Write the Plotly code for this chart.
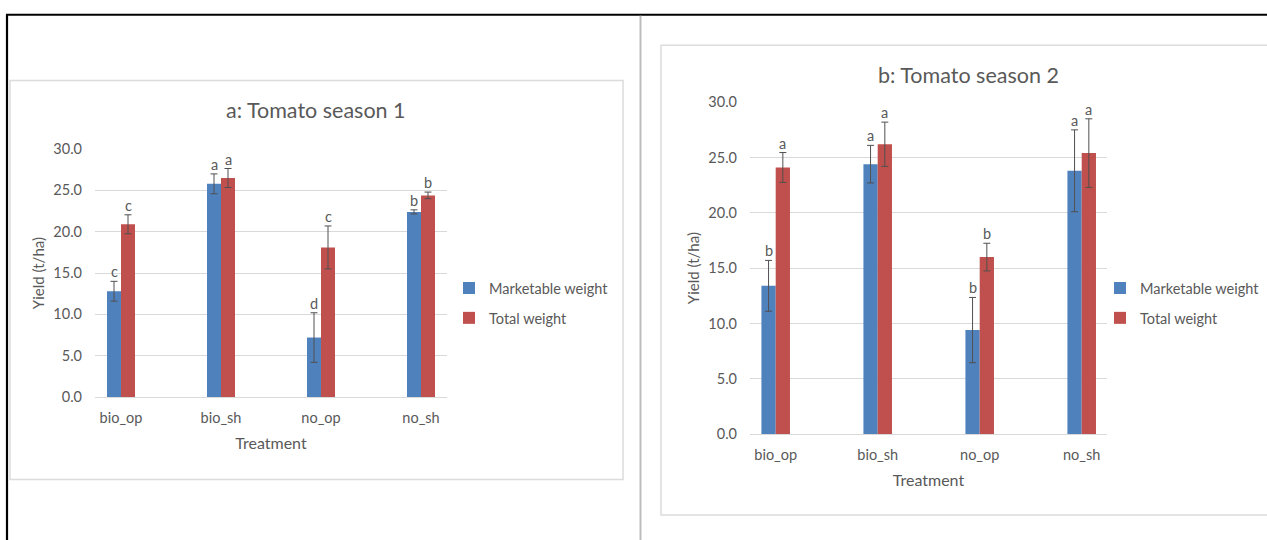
import plotly.graph_objects as go

# ---------------- data ----------------
treatments = ["bio_op", "bio_sh", "no_op", "no_sh"]
series_names = ["Marketable weight", "Total weight"]

s1_marketable = [12.8, 25.8, 7.2, 22.4]
s1_marketable_err = [1.2, 1.2, 3.0, 0.25]
s1_total = [20.9, 26.5, 18.1, 24.4]
s1_total_err = [1.15, 1.15, 2.6, 0.4]
s1_marketable_letters = ["c", "a", "d", "b"]
s1_total_letters = ["c", "a", "c", "b"]

s2_marketable = [13.4, 24.4, 9.4, 23.8]
s2_marketable_err = [2.3, 1.7, 2.95, 3.7]
s2_total = [24.1, 26.2, 16.0, 25.4]
s2_total_err = [1.35, 2.0, 1.25, 3.1]
s2_marketable_letters = ["b", "a", "b", "a"]
s2_total_letters = ["a", "a", "b", "a"]

y_ticks = [0, 5, 10, 15, 20, 25, 30]

# ---------------- style ----------------
W, H = 1267, 540
BLUE = "#4F81BD"
RED = "#C0504D"
TXT = "#595959"
GRID = "#D9D9D9"
FONT = "Lato"
BARGAP = 0.72
# vertical calibration of the rendered page (observed offset / scale)
Y_OFF, Y_SCALE = 8.25, 0.971


def px_x(p):
    return p / W


def px_y(p):
    return 1 - ((p - Y_OFF) / Y_SCALE) / H


fig = go.Figure()

panels = [
    dict(xa="x", ya="y", legend="legend",
         vals=[s1_marketable, s1_total], errs=[s1_marketable_err, s1_total_err],
         letters=[s1_marketable_letters, s1_total_letters]),
    dict(xa="x2", ya="y2", legend="legend2",
         vals=[s2_marketable, s2_total], errs=[s2_marketable_err, s2_total_err],
         letters=[s2_marketable_letters, s2_total_letters]),
]
colors = [BLUE, RED]

annotations = []
half = (1 - BARGAP) / 4  # center offset of each bar within its group
for p in panels:
    for k in range(2):
        fig.add_trace(go.Bar(
            x=treatments, y=p["vals"][k], name=series_names[k],
            marker=dict(color=colors[k], line=dict(width=0)),
            error_y=dict(type="data", array=p["errs"][k], visible=True,
                         color="#505050", thickness=1, width=3.5),
            xaxis=p["xa"], yaxis=p["ya"], legend=p["legend"],
            legendgroup=p["legend"] + str(k),
        ))
        for i, t in enumerate(treatments):
            annotations.append(dict(
                x=i + (-half if k == 0 else half),
                y=p["vals"][k][i] + p["errs"][k][i],
                xref=p["xa"], yref=p["ya"], text=p["letters"][k][i],
                showarrow=False, xanchor="center", yanchor="bottom", yshift=-1,
                font=dict(family=FONT, size=14.5, color=TXT),
            ))

# titles
annotations.append(dict(x=px_x(316), y=px_y(110), xref="paper", yref="paper",
                        text="a: Tomato season 1", showarrow=False,
                        xanchor="center", yanchor="middle",
                        font=dict(family=FONT, size=21.5, color=TXT)))
annotations.append(dict(x=px_x(968), y=px_y(74), xref="paper", yref="paper",
                        text="b: Tomato season 2", showarrow=False,
                        xanchor="center", yanchor="middle",
                        font=dict(family=FONT, size=21.5, color=TXT)))

axis_font = dict(family=FONT, size=14.5, color=TXT)
title_font_x = dict(family=FONT, size=16, color=TXT)
title_font_y = dict(family=FONT, size=15, color=TXT)


def xaxis(domain, rng, anchor):
    return dict(domain=domain, range=rng, anchor=anchor, type="category",
                showgrid=False, zeroline=False, showline=False, ticks="",
                tickfont=axis_font, ticklabelstandoff=10,
                title=dict(text="Treatment", font=title_font_x, standoff=13))


def yaxis(domain, anchor):
    return dict(domain=domain, range=[0, 30], anchor=anchor,
                tickvals=y_ticks, tickformat=".1f",
                showgrid=True, gridcolor=GRID, gridwidth=1,
                zeroline=True, zerolinecolor=GRID, zerolinewidth=1,
                showline=False, ticks="", tickfont=axis_font,
                ticklabelstandoff=12,
                title=dict(text="Yield (t/ha)", font=title_font_y, standoff=5))


shapes = [
    # chart frames
    dict(type="rect", xref="paper", yref="paper",
         x0=px_x(10), x1=px_x(623), y0=px_y(480), y1=px_y(80),
         line=dict(color="#DCDCDC", width=1.5), layer="below"),
    dict(type="rect", xref="paper", yref="paper",
         x0=px_x(661), x1=px_x(1285), y0=px_y(515.5), y1=px_y(44.5),
         line=dict(color="#DCDCDC", width=1.5), layer="below"),
    # page borders
    dict(type="line", xref="paper", yref="paper",
         x0=px_x(6), x1=px_x(1280), y0=px_y(14), y1=px_y(14),
         line=dict(color="black", width=2.2)),
    dict(type="line", xref="paper", yref="paper",
         x0=px_x(7), x1=px_x(7), y0=px_y(14), y1=px_y(560),
         line=dict(color="black", width=2.2)),
    dict(type="line", xref="paper", yref="paper",
         x0=px_x(640.5), x1=px_x(640.5), y0=px_y(15), y1=px_y(560),
         line=dict(color="#BDBDBD", width=2)),
]

legend_common = dict(font=dict(family=FONT, size=14.5, color=TXT),
                     bgcolor="rgba(0,0,0,0)", borderwidth=0,
                     tracegroupgap=8, xanchor="left", yanchor="top",
                     traceorder="grouped")

fig.update_layout(
    width=W, height=H,
    margin=dict(l=0, r=0, t=0, b=0),
    paper_bgcolor="white", plot_bgcolor="white",
    barmode="group", bargap=BARGAP, bargroupgap=0,
    xaxis=xaxis([px_x(95), px_x(447)], [-0.26, 3.26], "y"),
    yaxis=yaxis([px_y(397.3), px_y(148.7)], "x"),
    xaxis2=xaxis([px_x(750), px_x(1107)], [-0.252, 3.248], "y2"),
    yaxis2=yaxis([px_y(434.4), px_y(101.7)], "x2"),
    legend=dict(x=px_x(449), y=px_y(272), **legend_common),
    legend2=dict(x=px_x(1100), y=px_y(272), **legend_common),
    annotations=annotations,
    shapes=shapes,
    showlegend=True,
)

fig.write_html(
    "out.html",
    config={"displayModeBar": False},
    post_script="document.body.style.margin='0';document.body.style.overflow='hidden';",
)
